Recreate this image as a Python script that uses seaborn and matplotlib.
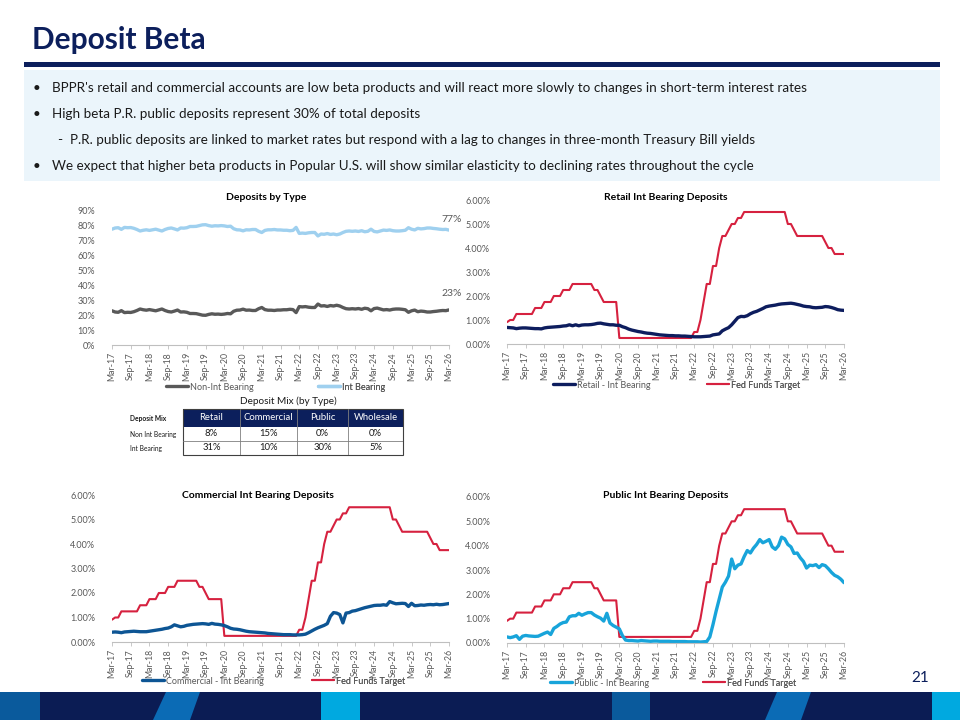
import numpy as np
import pandas as pd
import matplotlib
matplotlib.use("Agg")
import matplotlib.pyplot as plt
from matplotlib.lines import Line2D
from matplotlib.patches import Rectangle, Polygon
from matplotlib.ticker import PercentFormatter
import seaborn as sns

# ---------------- data ----------------
# monthly, Mar-17 .. Mar-26
months = pd.date_range("2017-03-01", "2026-03-01", freq="MS")
tick_labels = ["Mar-17", "Sep-17", "Mar-18", "Sep-18", "Mar-19", "Sep-19", "Mar-20",
               "Sep-20", "Mar-21", "Sep-21", "Mar-22", "Sep-22", "Mar-23", "Sep-23",
               "Mar-24", "Sep-24", "Mar-25", "Sep-25", "Mar-26"]

fed_funds = [
    0.91, 1.00, 1.00, 1.25, 1.25, 1.25, 1.25, 1.25, 1.25, 1.50,
    1.50, 1.50, 1.75, 1.75, 1.75, 2.00, 2.00, 2.00, 2.25, 2.25, 2.25, 2.50,
    2.50, 2.50, 2.50, 2.50, 2.50, 2.50, 2.25, 2.25, 2.00, 1.75, 1.75, 1.75,
    1.75, 1.75, 0.25, 0.25, 0.25, 0.25, 0.25, 0.25, 0.25, 0.25, 0.25, 0.25,
    0.25, 0.25, 0.25, 0.25, 0.25, 0.25, 0.25, 0.25, 0.25, 0.25, 0.25, 0.25,
    0.25, 0.25, 0.50, 0.50, 1.00, 1.75, 2.50, 2.50, 3.25, 3.25, 4.00, 4.50,
    4.50, 4.75, 5.00, 5.00, 5.25, 5.25, 5.50, 5.50, 5.50, 5.50, 5.50, 5.50,
    5.50, 5.50, 5.50, 5.50, 5.50, 5.50, 5.50, 5.50, 5.00, 5.00, 4.75, 4.50,
    4.50, 4.50, 4.50, 4.50, 4.50, 4.50, 4.50, 4.50, 4.25, 4.00, 4.00, 3.75,
    3.75, 3.75, 3.75,
]

retail_ib = [
    0.69, 0.68, 0.67, 0.64, 0.66, 0.67, 0.67, 0.66, 0.65, 0.64,
    0.64, 0.63, 0.67, 0.69, 0.70, 0.71, 0.72, 0.73, 0.75, 0.76, 0.80, 0.76,
    0.80, 0.76, 0.79, 0.80, 0.80, 0.81, 0.83, 0.86, 0.87, 0.84, 0.82, 0.80,
    0.80, 0.78, 0.78, 0.72, 0.68, 0.62, 0.58, 0.55, 0.52, 0.50, 0.47, 0.45,
    0.44, 0.42, 0.40, 0.38, 0.37, 0.36, 0.35, 0.35, 0.34, 0.34, 0.33, 0.33,
    0.32, 0.31, 0.30, 0.30, 0.30, 0.31, 0.32, 0.33, 0.38, 0.40, 0.42, 0.55,
    0.62, 0.68, 0.80, 0.95, 1.10, 1.15, 1.14, 1.18, 1.26, 1.32, 1.36, 1.42,
    1.48, 1.55, 1.58, 1.60, 1.62, 1.65, 1.67, 1.68, 1.69, 1.70, 1.68, 1.65,
    1.62, 1.58, 1.56, 1.55, 1.52, 1.51, 1.52, 1.53, 1.56, 1.55, 1.52, 1.48,
    1.43, 1.41, 1.40,
]

commercial_ib = [
    0.40, 0.41, 0.40, 0.38, 0.41, 0.42, 0.43, 0.44, 0.43, 0.42,
    0.42, 0.42, 0.44, 0.46, 0.48, 0.50, 0.52, 0.55, 0.57, 0.62, 0.70, 0.66,
    0.62, 0.64, 0.68, 0.70, 0.72, 0.73, 0.74, 0.75, 0.74, 0.72, 0.76, 0.73,
    0.72, 0.70, 0.67, 0.62, 0.56, 0.53, 0.52, 0.50, 0.47, 0.44, 0.42, 0.41,
    0.40, 0.39, 0.38, 0.37, 0.35, 0.34, 0.33, 0.32, 0.31, 0.30, 0.30, 0.30,
    0.29, 0.29, 0.29, 0.30, 0.32, 0.38, 0.45, 0.52, 0.58, 0.63, 0.68, 0.75,
    1.05, 1.20, 1.18, 1.12, 0.78, 1.18, 1.20, 1.26, 1.28, 1.32, 1.36, 1.40,
    1.43, 1.46, 1.49, 1.50, 1.50, 1.52, 1.50, 1.65, 1.60, 1.56, 1.57, 1.58,
    1.57, 1.45, 1.58, 1.48, 1.49, 1.51, 1.50, 1.52, 1.53, 1.52, 1.54, 1.52,
    1.53, 1.55, 1.57,
]

public_ib = [
    0.25, 0.22, 0.25, 0.30, 0.15, 0.28, 0.31, 0.29, 0.28, 0.27,
    0.28, 0.34, 0.40, 0.45, 0.35, 0.60, 0.68, 0.78, 0.84, 0.86, 1.08, 1.12,
    1.12, 1.22, 1.14, 1.20, 1.25, 1.25, 1.15, 1.08, 1.02, 0.90, 1.22, 0.82,
    0.72, 0.65, 0.58, 0.30, 0.12, 0.10, 0.10, 0.09, 0.08, 0.10, 0.09, 0.08,
    0.07, 0.08, 0.08, 0.07, 0.07, 0.07, 0.07, 0.06, 0.06, 0.06, 0.06, 0.06,
    0.05, 0.05, 0.05, 0.05, 0.04, 0.05, 0.06, 0.25, 0.75, 1.30, 1.80, 2.30,
    2.50, 2.75, 3.45, 3.05, 3.20, 3.25, 3.55, 3.80, 3.70, 3.90, 4.05, 4.25,
    4.12, 4.18, 4.25, 3.95, 3.85, 4.00, 4.35, 4.28, 4.05, 3.95, 3.68, 3.70,
    3.50, 3.35, 3.08, 3.20, 3.18, 3.22, 3.10, 3.22, 3.18, 3.05, 2.90, 2.78,
    2.72, 2.62, 2.48,
]

non_int_bearing = [
    22.8, 22.0, 21.8, 22.9, 21.6, 21.8, 21.7, 22.2, 23.0, 24.0,
    23.5, 23.2, 23.6, 23.2, 22.8, 23.4, 24.0, 23.0, 22.3, 22.0, 22.6, 23.3,
    22.0, 22.1, 21.8, 21.0, 21.0, 20.9, 20.4, 19.9, 19.8, 20.4, 20.8, 20.5,
    20.6, 20.4, 20.6, 21.0, 20.8, 22.5, 23.2, 23.3, 23.9, 23.2, 23.3, 23.0,
    23.0, 24.2, 25.0, 23.6, 23.2, 23.2, 23.0, 23.3, 23.3, 23.5, 23.5, 23.8,
    23.6, 21.6, 25.6, 25.4, 25.6, 25.2, 25.0, 25.0, 27.3, 26.0, 26.2, 25.7,
    26.3, 26.0, 26.5, 26.0, 25.0, 24.2, 24.0, 24.2, 24.0, 24.3, 23.8, 24.5,
    24.2, 22.8, 24.3, 24.6, 24.0, 23.4, 23.6, 23.3, 23.8, 24.0, 24.0, 23.8,
    23.5, 21.8, 22.8, 23.3, 22.2, 22.6, 22.4, 22.0, 22.0, 22.3, 22.5, 22.8,
    23.0, 22.9, 23.4,
]

int_bearing = [
    77.2, 78.0, 78.2, 77.1, 78.4, 78.2, 78.3, 77.8, 77.0, 76.0,
    76.5, 76.8, 76.4, 76.8, 77.2, 76.6, 76.0, 77.0, 77.7, 78.0, 77.4, 76.7,
    78.0, 77.9, 78.2, 79.0, 79.0, 79.1, 79.6, 80.1, 80.2, 79.6, 79.2, 79.5,
    79.4, 79.6, 79.4, 79.0, 79.2, 77.5, 76.8, 76.7, 76.1, 76.8, 76.7, 77.0,
    77.0, 75.8, 75.0, 76.4, 76.8, 76.8, 77.0, 76.7, 76.7, 76.5, 76.5, 76.2,
    76.4, 78.4, 74.4, 74.6, 74.4, 74.8, 75.0, 75.0, 72.7, 74.0, 73.8, 74.3,
    73.7, 74.0, 73.5, 74.0, 75.0, 75.8, 76.0, 75.8, 76.0, 75.7, 76.2, 75.5,
    75.8, 77.2, 75.7, 75.4, 76.0, 76.6, 76.4, 76.7, 76.2, 76.0, 76.0, 76.2,
    76.5, 78.2, 77.2, 76.7, 77.8, 77.4, 77.6, 78.0, 78.0, 77.7, 77.5, 77.2,
    77.0, 77.1, 76.6,
]

table_cols = ["Retail", "Commercial", "Public", "Wholesale"]
table_rows = ["Non Int Bearing", "Int Bearing"]
table_vals = [["8%", "15%", "0%", "0%"],
              ["31%", "10%", "30%", "5%"]]

bullets = [
    ("•", "BPPR's retail and commercial accounts are low beta products and will react more slowly to changes in short-term interest rates"),
    ("•", "High beta P.R. public deposits represent 30% of total deposits"),
    ("-", "P.R. public deposits are linked to market rates but respond with a lag to changes in three-month Treasury Bill yields"),
    ("•", "We expect that higher beta products in Popular U.S. will show similar elasticity to declining rates throughout the cycle"),
]

# ---------------- style ----------------
NAVY = "#0c1f5c"
RETAIL = "#0d1d5e"
COMM = "#0d5594"
PUBLIC = "#18a4da"
RED = "#d6213f"
LIGHT = "#9fd0ef"
GREY = "#595959"
TICK = "#595959"

sns.set_theme(style="white")
plt.rcParams["font.family"] = ["Lato", "DejaVu Sans"]

W, H = 960, 720
fig = plt.figure(figsize=(9.6, 7.2), dpi=100)


def rect(l, t, r, b):
    return [l / W, 1 - b / H, (r - l) / W, (b - t) / H]


def ftext(x, y, s, **kw):
    fig.text(x / W, 1 - y / H, s, **kw)


df = pd.DataFrame({
    "idx": np.arange(len(months)),
    "fed": fed_funds,
    "retail": retail_ib,
    "commercial": commercial_ib,
    "public": public_ib,
    "nonint": non_int_bearing,
    "int": int_bearing,
})


def style_axis(ax, ymax, step, fmt_dec):
    ax.set_xlim(0, len(months) - 1)
    ax.set_ylim(0, ymax)
    ax.set_yticks(np.arange(0, ymax + step / 2, step))
    ax.yaxis.set_major_formatter(PercentFormatter(1.0 if fmt_dec == 0 else 100, decimals=fmt_dec))
    ax.set_xticks(np.arange(0, len(months), 6))
    ax.set_xticklabels(tick_labels, rotation=90)
    for s in ["top", "right", "left"]:
        ax.spines[s].set_visible(False)
    ax.spines["bottom"].set_color("#bfbfbf")
    ax.spines["bottom"].set_linewidth(0.8)
    ax.tick_params(axis="x", bottom=True, length=3, width=0.6, color="#bfbfbf",
                   labelsize=6.3, labelcolor=TICK, pad=2)
    ax.tick_params(axis="y", left=False, labelsize=6.5, labelcolor=TICK, pad=6)
    ax.set_xlabel("")
    ax.set_ylabel("")
    ax.patch.set_alpha(0)


def leg_entry(ax, color, lw, label, x, y):
    h = Line2D([0], [0], color=color, lw=lw)
    lg = ax.legend(handles=[h], labels=[label], loc="center left",
                   bbox_to_anchor=(x / W, 1 - y / H), bbox_transform=fig.transFigure,
                   frameon=False, fontsize=6.5, handlelength=2.4, handletextpad=0.3,
                   borderpad=0, borderaxespad=0)
    for t in lg.get_texts():
        t.set_color(TICK)
    ax.add_artist(lg)


# ---------------- header ----------------
ftext(32, 40, "Deposit Beta", fontsize=21.5, fontweight="bold", color=NAVY, va="center")
fig.add_artist(Rectangle((24 / W, 1 - 67 / H), 916 / W, 5 / H, transform=fig.transFigure,
                         color=NAVY, lw=0))
fig.add_artist(Rectangle((24 / W, 1 - 181 / H), 916 / W, 111 / H, transform=fig.transFigure,
                         color="#ebf5fb", lw=0))
for i, (mark, txt) in enumerate(bullets):
    y = 88 + 26 * i
    if mark == "-":
        ftext(57, y, mark, fontsize=9.7, color="#1a1a1a", va="center")
        ftext(70, y, txt, fontsize=9.7, color="#1a1a1a", va="center")
    else:
        ftext(33, y, mark, fontsize=9.7, color="#1a1a1a", va="center")
        ftext(52, y, txt, fontsize=9.7, color="#1a1a1a", va="center")

# ---------------- Deposits by Type ----------------
ax1 = fig.add_axes(rect(112, 210, 449, 345))
long1 = df.melt(id_vars="idx", value_vars=["nonint", "int"], var_name="s", value_name="v")
long1["v"] = long1["v"] / 100
sns.lineplot(data=long1, x="idx", y="v", hue="s", palette={"nonint": GREY, "int": LIGHT},
             lw=2.4, ax=ax1, legend=False)
style_axis(ax1, 0.9, 0.1, 0)
ax1.yaxis.set_major_formatter(PercentFormatter(1.0, decimals=0))
ftext(266, 198, "Deposits by Type", fontsize=7.5, fontweight="bold", color="black", ha="center", va="center")
ftext(452, 219, "77%", fontsize=7.5, color=GREY, ha="center", va="center")
ftext(452, 293, "23%", fontsize=7.5, color=GREY, ha="center", va="center")
leg_entry(ax1, GREY, 2.4, "Non-Int Bearing", 166, 387)
leg_entry(ax1, LIGHT, 2.4, "Int Bearing", 318, 387)

# ---------------- rate charts ----------------
rate_charts = [
    ("retail", "Retail Int Bearing Deposits", "Retail - Int Bearing", RETAIL,
     (507, 200, 844, 344), (666, 198), (553, 707, 385)),
    ("commercial", "Commercial Int Bearing Deposits", "Commercial - Int Bearing", COMM,
     (112, 495, 449, 642), (258, 496), (142, 312, 681)),
    ("public", "Public Int Bearing Deposits", "Public - Int Bearing", PUBLIC,
     (507, 497, 844, 643), (666, 496), (550, 703, 683)),
]
for col, title, label, color, box, tpos, lpos in rate_charts:
    ax = fig.add_axes(rect(*box))
    sns.lineplot(data=df, x="idx", y="fed", color=RED, lw=1.5, ax=ax)
    sns.lineplot(data=df, x="idx", y=col, color=color, lw=2.4, ax=ax)
    style_axis(ax, 6, 1, 2)
    ftext(tpos[0], tpos[1], title, fontsize=7.5, fontweight="bold", color="black",
          ha="center", va="center")
    leg_entry(ax, color, 2.4, label, lpos[0], lpos[2])
    leg_entry(ax, RED, 1.5, "Fed Funds Target", lpos[1], lpos[2])

# ---------------- Deposit Mix table ----------------
ftext(288, 401, "Deposit Mix (by Type)", fontsize=7.2, color="#1a1a1a", ha="center", va="center")
col_edges = [183, 240, 297, 348, 403]
row_edges = [409, 427, 441, 455]
tax = fig.add_axes(rect(183, 409, 403, 455))
tax.set_xlim(183, 403)
tax.set_ylim(455, 409)
tax.axis("off")
tax.add_patch(Rectangle((183, 409), 220, 18, color=NAVY, lw=0))
for j, name in enumerate(table_cols):
    cx = (col_edges[j] + col_edges[j + 1]) / 2
    tax.text(cx, 418, name, color="white", fontsize=6.8, ha="center", va="center")
    if j > 0:
        tax.plot([col_edges[j]] * 2, [409, 455], color="#7f7f7f", lw=0.6)
for i, row in enumerate(table_vals):
    cy = (row_edges[i + 1] + row_edges[i + 2]) / 2
    for j, v in enumerate(row):
        cx = (col_edges[j] + col_edges[j + 1]) / 2
        tax.text(cx, cy, v, color="#1a1a1a", fontsize=6.8, ha="center", va="center")
    ftext(130, cy, table_rows[i], fontsize=4.8, color="#1a1a1a", va="center")
tax.plot([183, 403], [441, 441], color="#7f7f7f", lw=0.6)
tax.add_patch(Rectangle((183, 409), 220, 46, fill=False, ec="#404040", lw=0.8, clip_on=False))
ftext(130, 418, "Deposit Mix", fontsize=4.8, fontweight="bold", color="#1a1a1a", va="center")

# ---------------- footer ----------------
ftext(920, 678, "21", fontsize=11, color=NAVY, ha="center", va="center")


def fpoly(pts, color):
    fig.add_artist(Polygon([(x / W, 1 - y / H) for x, y in pts], closed=True,
                           transform=fig.transFigure, color=color, lw=0))


fpoly([(0, 692), (960, 692), (960, 720), (0, 720)], "#0b1c54")
fpoly([(0, 692), (40, 692), (40, 720), (0, 720)], "#0a5a9c")
fpoly([(166, 692), (200, 692), (190, 720), (153, 720)], "#0b6bb5")
fpoly([(321, 692), (360, 692), (360, 720), (321, 720)], "#00a9e0")
fpoly([(612, 692), (650, 692), (650, 720), (612, 720)], "#0a5a9c")
fpoly([(777, 692), (811, 692), (801, 720), (765, 720)], "#0b6bb5")
fpoly([(932, 692), (960, 692), (960, 720), (932, 720)], "#00a9e0")

fig.savefig("out.png", dpi=100)
